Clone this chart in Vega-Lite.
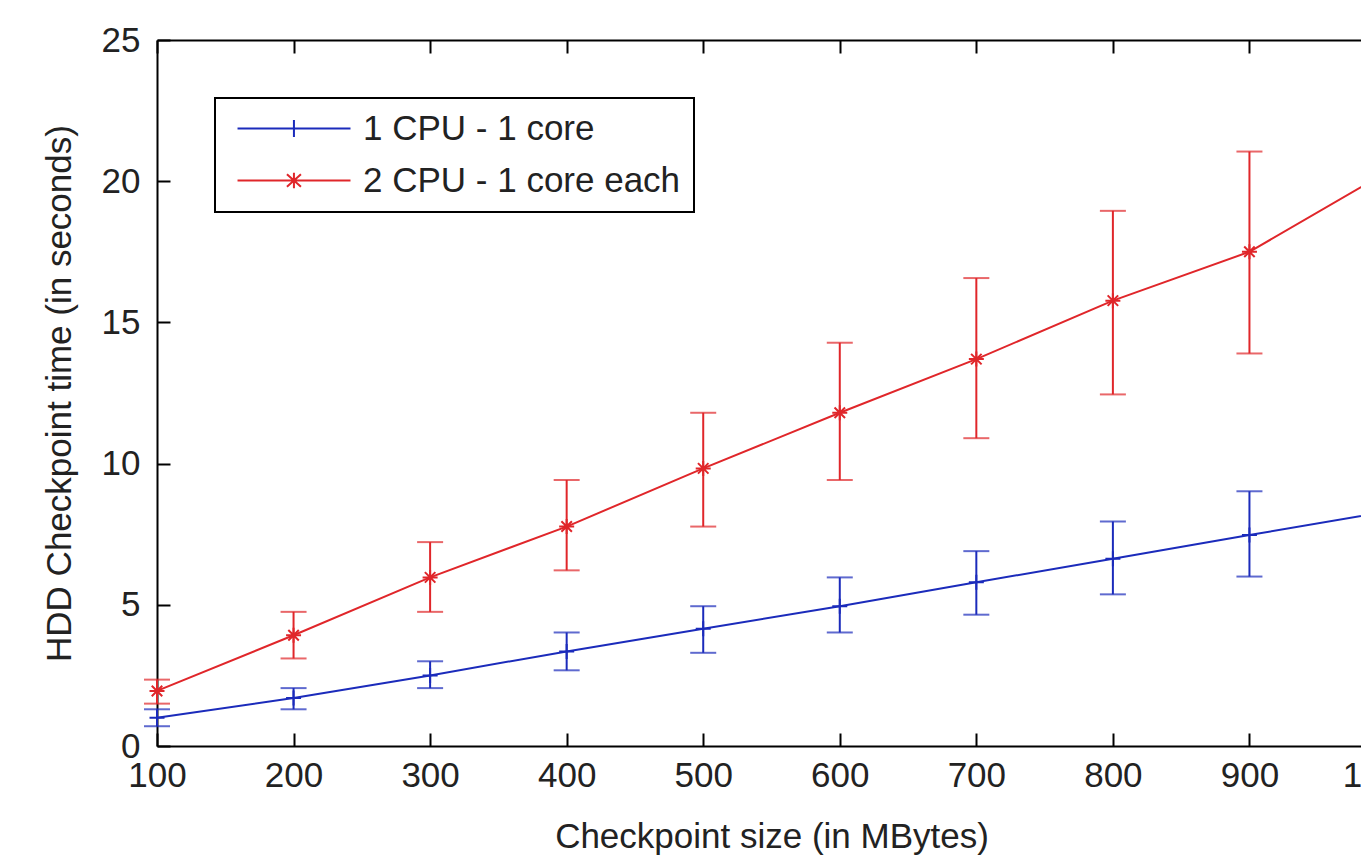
{
  "$schema": "https://vega.github.io/schema/vega-lite/v6.json",
  "width": 1229,
  "height": 706,
  "autosize": {"type": "none"},
  "padding": {"left": 157, "top": 40, "right": -25, "bottom": 117},
  "background": "white",
  "config": {
    "view": {"stroke": null},
    "font": "Liberation Sans",
    "axis": {
      "grid": false,
      "domainColor": "black",
      "domainWidth": 2,
      "tickColor": "black",
      "tickWidth": 2,
      "tickSize": -13,
      "labelFontSize": 35,
      "labelColor": "#222222",
      "labelFont": "Liberation Sans",
      "titleFont": "Liberation Sans",
      "titleFontSize": 35,
      "titleFontWeight": "normal",
      "titleColor": "#222222",
      "labelOverlap": false,
      "labelFlush": false
    }
  },
  "data": {
    "values": [
      {"size": 100, "series": "1 CPU - 1 core", "t": 1.0, "lo": 0.7, "hi": 1.3},
      {"size": 200, "series": "1 CPU - 1 core", "t": 1.7, "lo": 1.3, "hi": 2.05},
      {"size": 300, "series": "1 CPU - 1 core", "t": 2.5, "lo": 2.05, "hi": 3.0},
      {"size": 400, "series": "1 CPU - 1 core", "t": 3.35, "lo": 2.68, "hi": 4.02},
      {"size": 500, "series": "1 CPU - 1 core", "t": 4.15, "lo": 3.3, "hi": 4.95},
      {"size": 600, "series": "1 CPU - 1 core", "t": 4.95, "lo": 4.02, "hi": 5.97},
      {"size": 700, "series": "1 CPU - 1 core", "t": 5.8, "lo": 4.65, "hi": 6.9},
      {"size": 800, "series": "1 CPU - 1 core", "t": 6.63, "lo": 5.37, "hi": 7.95},
      {"size": 900, "series": "1 CPU - 1 core", "t": 7.47, "lo": 6.0, "hi": 9.02},
      {"size": 1000, "series": "1 CPU - 1 core", "t": 8.3, "lo": 6.8, "hi": 9.9},
      {"size": 100, "series": "2 CPU - 1 core each", "t": 1.95, "lo": 1.5, "hi": 2.35},
      {"size": 200, "series": "2 CPU - 1 core each", "t": 3.92, "lo": 3.1, "hi": 4.75},
      {"size": 300, "series": "2 CPU - 1 core each", "t": 5.97, "lo": 4.75, "hi": 7.22},
      {"size": 400, "series": "2 CPU - 1 core each", "t": 7.77, "lo": 6.22, "hi": 9.42},
      {"size": 500, "series": "2 CPU - 1 core each", "t": 9.83, "lo": 7.77, "hi": 11.8},
      {"size": 600, "series": "2 CPU - 1 core each", "t": 11.8, "lo": 9.42, "hi": 14.28},
      {"size": 700, "series": "2 CPU - 1 core each", "t": 13.7, "lo": 10.9, "hi": 16.57},
      {"size": 800, "series": "2 CPU - 1 core each", "t": 15.77, "lo": 12.45, "hi": 18.95},
      {"size": 900, "series": "2 CPU - 1 core each", "t": 17.5, "lo": 13.9, "hi": 21.05},
      {"size": 1000, "series": "2 CPU - 1 core each", "t": 20.3, "lo": 15.8, "hi": 24.2}
    ]
  },
  "resolve": {"axis": {"x": "independent"}},
  "layer": [
    {
      "mark": {"type": "line", "strokeWidth": 2},
      "encoding": {
        "x": {
          "field": "size", "type": "quantitative",
          "scale": {"domain": [100, 1000], "nice": false, "zero": false},
          "axis": {
            "orient": "bottom",
            "values": [100, 200, 300, 400, 500, 600, 700, 800, 900, 1000],
            "labelPadding": 25,
            "title": "Checkpoint size (in MBytes)",
            "titlePadding": 26
          }
        },
        "y": {
          "field": "t", "type": "quantitative",
          "title": "HDD Checkpoint time (in seconds)",
          "scale": {"domain": [0, 25], "nice": false},
          "axis": {
            "values": [0, 5, 10, 15, 20, 25],
            "labelPadding": 30,
            "title": "HDD Checkpoint time (in seconds)",
            "titlePadding": 24
          }
        },
        "color": {
          "field": "series", "type": "nominal",
          "scale": {"domain": ["1 CPU - 1 core", "2 CPU - 1 core each"], "range": ["#1b2bbb", "#e0262a"]},
          "legend": {
            "orient": "none",
            "legendX": 58,
            "legendY": 58,
            "title": null,
            "strokeColor": "black",
            "fillColor": "white",
            "padding": 13,
            "rowPadding": 16,
            "symbolSize": 784,
            "symbolStrokeWidth": 2,
            "symbolType": "M-0.57,0H7.5M3.46,-0.6V0.6",
            "labelFontSize": 35,
            "labelFont": "Liberation Sans",
            "labelColor": "#222222",
            "labelOffset": 100,
            "labelLimit": 600,
            "encode": {
              "legend": {"update": {"strokeWidth": {"value": 2}}},
              "symbols": {"update": {"shape": {"signal": "datum.value === '1 CPU - 1 core' ? 'M-0.57,0H7.5M3.46,-0.6V0.6' : 'M-0.57,0H7.5M3.46,-0.55V0.55M2.96,-0.45L3.96,0.45M2.96,0.45L3.96,-0.45'"}}}
            }
          }
        }
      }
    },
    {
      "mark": {"type": "errorbar", "ticks": {"size": 26}, "thickness": 2},
      "encoding": {
        "x": {"field": "size", "type": "quantitative", "axis": null},
        "y": {"field": "lo", "type": "quantitative", "title": "HDD Checkpoint time (in seconds)"},
        "y2": {"field": "hi"},
        "color": {"field": "series", "type": "nominal", "legend": null}
      }
    },
    {
      "transform": [{"filter": "datum.series === '1 CPU - 1 core'"}],
      "mark": {"type": "point", "filled": false, "size": 225, "strokeWidth": 2, "opacity": 1, "shape": "M-1,0H1M0,-1V1"},
      "encoding": {
        "x": {
          "field": "size", "type": "quantitative",
          "axis": {
            "orient": "top",
            "values": [100, 200, 300, 400, 500, 600, 700, 800, 900, 1000],
            "labels": false,
            "title": null
          }
        },
        "y": {"field": "t", "type": "quantitative", "title": "HDD Checkpoint time (in seconds)"},
        "color": {"field": "series", "type": "nominal", "legend": null}
      }
    },
    {
      "transform": [{"filter": "datum.series === '2 CPU - 1 core each'"}],
      "mark": {"type": "point", "filled": false, "size": 225, "strokeWidth": 2, "opacity": 1, "shape": "M-1,0H1M0,-1V1M-0.7,-0.7L0.7,0.7M-0.7,0.7L0.7,-0.7"},
      "encoding": {
        "x": {"field": "size", "type": "quantitative", "axis": null},
        "y": {"field": "t", "type": "quantitative", "title": "HDD Checkpoint time (in seconds)"},
        "color": {"field": "series", "type": "nominal", "legend": null}
      }
    }
  ]
}
